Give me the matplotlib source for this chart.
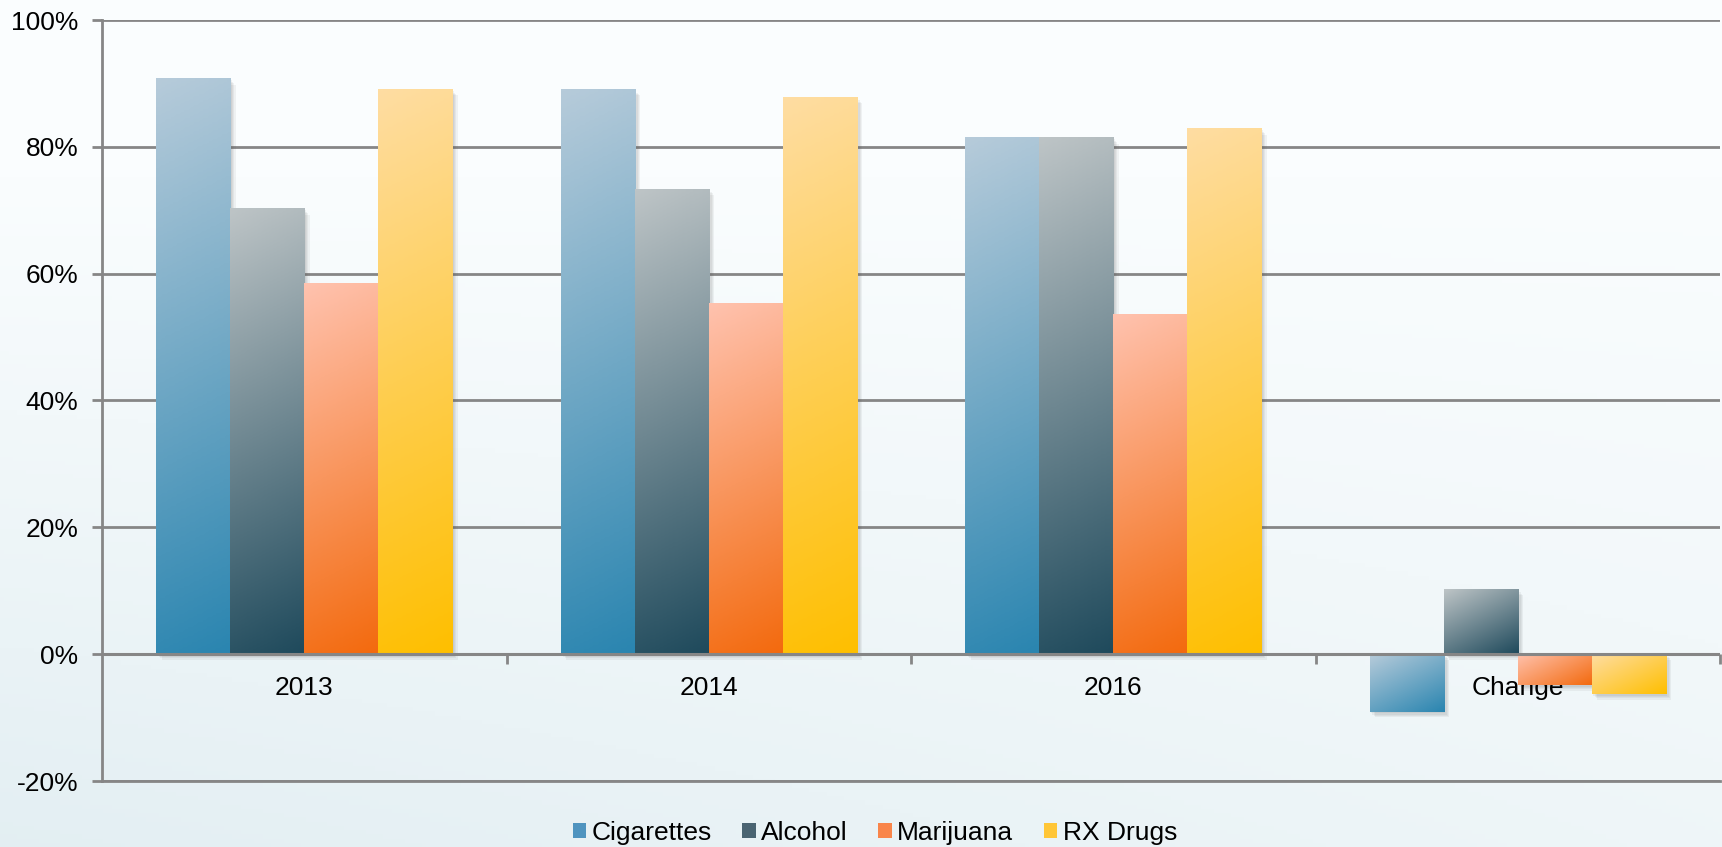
import numpy as np
import matplotlib
matplotlib.use("Agg")
import matplotlib.pyplot as plt
import matplotlib.patheffects as pe
import matplotlib.transforms as mtrans
from matplotlib.colors import LinearSegmentedColormap, to_rgb
from matplotlib.patches import Patch

plt.rcParams['font.family'] = ['Liberation Sans', 'DejaVu Sans']

# Data (percent)
categories = ['2013', '2014', '2016', 'Change']
series = ['Cigarettes', 'Alcohol', 'Marijuana', 'RX Drugs']
cigarettes = [90.7, 89.0, 81.5, -9.1]
alcohol = [70.2, 73.3, 81.4, 10.2]
marijuana = [58.4, 55.3, 53.6, -4.9]
rx_drugs = [89.0, 87.8, 82.8, -6.3]
yticks = [-20, 0, 20, 40, 60, 80, 100]

# gradient colours: (top-left light, bottom-right saturated)
grads = [('#b6cbda', '#2a85b0'),
         ('#bdc4c6', '#1f4a5c'),
         ('#ffc2ae', '#f36a0e'),
         ('#fedda2', '#ffbf00')]
legend_cols = ['#4f94bf', '#4a6472', '#f9854a', '#ffc637']
FS = 19
GRID = '#868686'

fig = plt.figure(figsize=(17.22, 8.47), dpi=100)

# soft background
bg = fig.add_axes([0, 0, 1, 1], zorder=-10)
yy, xx = np.mgrid[0:1:200j, 0:1:400j]
top = np.array(to_rgb('#fafdfe'))
bl = np.array(to_rgb('#e2eef2'))
w = np.clip(yy * 1.2 - 0.25, 0, 1) * (1 - 0.5 * xx)
w = w[..., None]
bg.imshow(top * (1 - w) + bl * w, extent=(0, 1, 0, 1), origin='upper', aspect='auto')
bg.axis('off')

ax = fig.add_axes([102 / 1722, 1 - 781 / 847, (1720 - 102) / 1722, (781 - 20) / 847])
ax.set_facecolor('none')

x = np.arange(len(categories))
bw = 0.183
px_x = 404.5      # pixels per category unit
px_y = 6.34       # pixels per percent

# gridlines under the bars
for v in yticks:
    ax.axhline(v, color=GRID, linewidth=2, zorder=1)

shadow = [pe.SimplePatchShadow(offset=(o, -o), shadow_rgbFace='#555555', alpha=0.07)
          for o in (1, 2, 3, 4)]

for i, vals in enumerate([cigarettes, alcohol, marijuana, rx_drugs]):
    cmap = LinearSegmentedColormap.from_list('g%d' % i, grads[i])
    bars = ax.bar(x + (i - 1.5) * bw, vals, bw, color=grads[i][1], zorder=1.5,
                  path_effects=shadow + [pe.Normal()])
    for b in bars:
        x0, w_ = b.get_x(), b.get_width()
        y0, h = b.get_y(), b.get_height()
        wp, hp = w_ * px_x * 0.5, abs(h) * px_y
        ty, tx = np.mgrid[0:1:120j, 0:1:40j]
        t = (ty * hp + tx * wp) / (hp + wp)
        ax.imshow(cmap(t), extent=(x0, x0 + w_, min(y0, y0 + h), max(y0, y0 + h)),
                  origin='upper', aspect='auto', interpolation='bilinear', zorder=1.6)

ax.axhline(0, color=GRID, linewidth=2.2, zorder=2)

ax.set_xlim(-0.5, 3.5)
ax.set_ylim(-20, 100)
ax.set_yticks(yticks)
ax.set_yticklabels(['%d%%' % v for v in yticks])

ax.set_xticks(x)
ax.set_xticklabels(categories)
ax.set_xticks(np.arange(0.5, 4, 1), minor=True)
ax.tick_params(axis='x', which='major', length=0, pad=16, labelsize=FS)
ax.tick_params(axis='x', which='minor', length=7, width=2, color=GRID, direction='out')
ax.tick_params(axis='y', length=7, width=2, color=GRID, pad=10, labelsize=FS)

# x tick marks and labels hang from the zero line instead of the bottom
lift = mtrans.ScaledTranslation(0, (781 - 654) / 100, fig.dpi_scale_trans)
for tk in ax.xaxis.get_minor_ticks():
    tk.tick1line.set_transform(tk.tick1line.get_transform() + lift)
for lab in ax.get_xticklabels():
    lab.set_transform(lab.get_transform() + lift)

for s in ['top', 'right']:
    ax.spines[s].set_visible(False)
for s in ['left', 'bottom']:
    ax.spines[s].set_color(GRID)
    ax.spines[s].set_linewidth(2)

handles = [Patch(facecolor=c, label=s) for c, s in zip(legend_cols, series)]
fig.legend(handles=handles, loc='center', bbox_to_anchor=(875 / 1722, 1 - 833 / 847),
           ncol=4, frameon=False, fontsize=FS, handlelength=0.5, handleheight=0.5,
           handletextpad=0.22, columnspacing=1.15)

fig.savefig('out.png', dpi=100)
